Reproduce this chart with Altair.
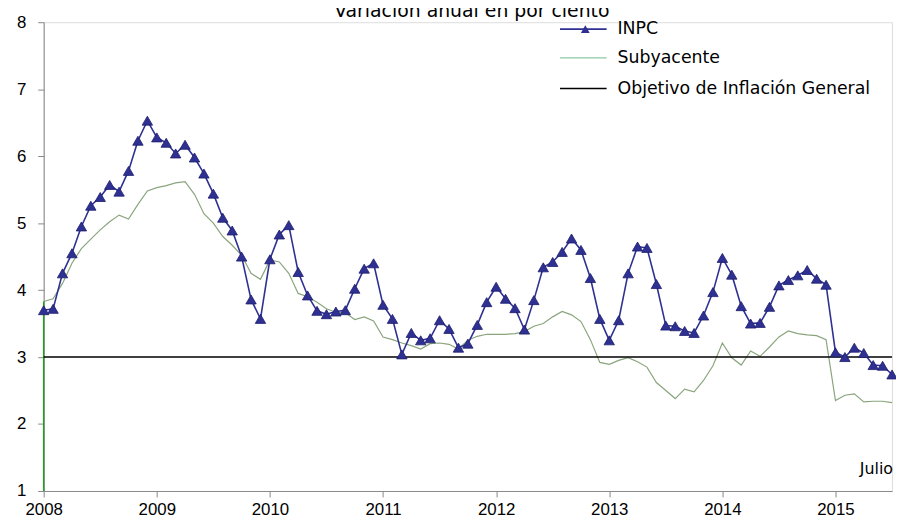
import altair as alt
import pandas as pd

# ---------------- data ----------------
start_year = 2008
inpc = [
    3.70, 3.72, 4.25, 4.55, 4.95, 5.26, 5.39, 5.57, 5.47, 5.78, 6.23, 6.53,
    6.28, 6.20, 6.04, 6.17, 5.98, 5.74, 5.44, 5.08, 4.89, 4.50, 3.86, 3.57,
    4.46, 4.83, 4.97, 4.27, 3.92, 3.69, 3.64, 3.68, 3.70, 4.02, 4.32, 4.40,
    3.78, 3.57, 3.04, 3.36, 3.25, 3.28, 3.55, 3.42, 3.14, 3.20, 3.48, 3.82,
    4.05, 3.87, 3.73, 3.41, 3.85, 4.34, 4.42, 4.57, 4.77, 4.60, 4.18, 3.57,
    3.25, 3.55, 4.25, 4.65, 4.63, 4.09, 3.47, 3.46, 3.39, 3.36, 3.62, 3.97,
    4.48, 4.23, 3.76, 3.50, 3.51, 3.75, 4.07, 4.15, 4.22, 4.30, 4.17, 4.08,
    3.07, 3.00, 3.14, 3.06, 2.88, 2.87, 2.74,
]
subyacente = [
    3.83, 3.87, 4.10, 4.40, 4.62, 4.76, 4.90, 5.02, 5.12, 5.06, 5.28, 5.48,
    5.53, 5.56, 5.60, 5.62, 5.43, 5.14, 5.00, 4.80, 4.67, 4.52, 4.25, 4.16,
    4.45, 4.42, 4.25, 3.95, 3.90, 3.82, 3.72, 3.67, 3.66, 3.56, 3.60, 3.54,
    3.30, 3.26, 3.21, 3.17, 3.12, 3.20, 3.21, 3.19, 3.12, 3.25, 3.31, 3.34,
    3.34, 3.34, 3.35, 3.38, 3.46, 3.50, 3.60, 3.68, 3.63, 3.53, 3.26, 2.92,
    2.89, 2.95, 2.99, 2.93, 2.85, 2.62, 2.50, 2.38, 2.52, 2.48, 2.65, 2.87,
    3.21, 2.99, 2.88, 3.09, 3.01, 3.15, 3.30, 3.39, 3.35, 3.33, 3.32, 3.26,
    2.35, 2.43, 2.45, 2.33, 2.34, 2.34, 2.32,
]
objetivo = 3.0
year_ticks = [2008, 2009, 2010, 2011, 2012, 2013, 2014, 2015]
y_ticks = [1, 2, 3, 4, 5, 6, 7, 8]
legend_labels = ["INPC", "Subyacente", "Objetivo de Inflación General"]
title_text = "Variación anual en por ciento"
note_text = "Julio"

# ---------------- tables ----------------
t = [start_year + i / 12 for i in range(len(inpc))]
df = pd.DataFrame({"t": t, "inpc": inpc, "sub": subyacente})
df_target = pd.DataFrame({"y": [objetivo]})
df_start = pd.DataFrame({"t": [t[0]], "y0": [y_ticks[0]], "y1": [subyacente[0]]})

W, H = 856, 473
FONT = "Liberation Sans"
TFONT = "DejaVu Sans"
NAVY = "#2e3192"
GREEN = "#8aa57e"

xs = alt.Scale(domain=[2008, 2015.5], nice=False, zero=False)
ys = alt.Scale(domain=[1, 8], nice=False, zero=False)

x_axis = alt.Axis(values=year_ticks, format="d", title=None, grid=False,
                  labelFontSize=17, labelPadding=5, tickSize=6, labelFlush=False)
y_axis = alt.Axis(values=y_ticks, format="d", title=None, grid=False,
                  labelFontSize=17, labelPadding=12, tickSize=6)

base = alt.Chart(df)

sub_line = base.mark_line(color=GREEN, strokeWidth=1.2).encode(
    x=alt.X("t:Q", scale=xs, axis=x_axis),
    y=alt.Y("sub:Q", scale=ys, axis=y_axis),
)

start_rule = alt.Chart(df_start).mark_rule(color="#1fa01f", strokeWidth=1.5).encode(
    x=alt.X("t:Q", scale=xs), y=alt.Y("y0:Q", scale=ys), y2="y1:Q"
)

target_rule = alt.Chart(df_target).mark_rule(color="black", strokeWidth=1.5).encode(
    y=alt.Y("y:Q", scale=ys)
)

inpc_line = base.mark_line(color=NAVY, strokeWidth=1.6).encode(
    x=alt.X("t:Q", scale=xs), y=alt.Y("inpc:Q", scale=ys)
)
inpc_pts = base.mark_point(shape="triangle-up", filled=True, size=110,
                           color=NAVY, opacity=1, stroke="#1c1c6a", strokeWidth=0.8).encode(
    x=alt.X("t:Q", scale=xs), y=alt.Y("inpc:Q", scale=ys)
)

one = alt.Data(values=[{"a": 1}])

# manual legend (top right, inside the plot)
LX0, LX1, LTX = 521, 568, 579
rows_y = [7, 36, 67]
leg = []
leg.append(alt.Chart(one).mark_rule(color=NAVY, strokeWidth=1.6).encode(
    x=alt.value(LX0), x2=alt.value(LX1), y=alt.value(rows_y[0])))
leg.append(alt.Chart(one).mark_point(shape="triangle-up", filled=True, size=80,
                                     color=NAVY, opacity=1).encode(
    x=alt.value((LX0 + LX1) / 2 + 2), y=alt.value(rows_y[0])))
leg.append(alt.Chart(one).mark_rule(color="#6dbb8a", strokeWidth=1).encode(
    x=alt.value(LX0), x2=alt.value(LX1), y=alt.value(rows_y[1])))
leg.append(alt.Chart(one).mark_rule(color="black", strokeWidth=1.5).encode(
    x=alt.value(LX0), x2=alt.value(LX1), y=alt.value(rows_y[2])))
for lab, yy in zip(legend_labels, rows_y):
    leg.append(alt.Chart(one).mark_text(text=lab, align="left", baseline="middle",
                                        fontSize=17.5, font=TFONT, color="black").encode(
        x=alt.value(LTX), y=alt.value(yy)))

title = alt.Chart(one).mark_text(text=title_text, align="center", baseline="alphabetic",
                                 fontSize=19, font=TFONT, color="black").encode(
    x=alt.value(W / 2 + 4), y=alt.value(-5))

note = alt.Chart(one).mark_text(text=note_text, align="right", baseline="middle",
                                fontSize=16, font=TFONT, color="black").encode(
    x=alt.value(W + 1), y=alt.value(451))

chart = alt.layer(
    sub_line, start_rule, target_rule, inpc_line, inpc_pts, title, note, *leg
).properties(
    width=W, height=H,
    autosize=alt.AutoSizeParams(type="none"),
    padding={"left": 36, "top": 12, "right": 4, "bottom": 35},
).configure_view(stroke=None).configure_axis(
    domainColor="black", domainWidth=1.5, tickColor="black", tickWidth=1.2,
    labelColor="black", labelFont=FONT,
).configure(background="white")

chart.save("out.html", embed_options={"renderer": "svg", "actions": False})
